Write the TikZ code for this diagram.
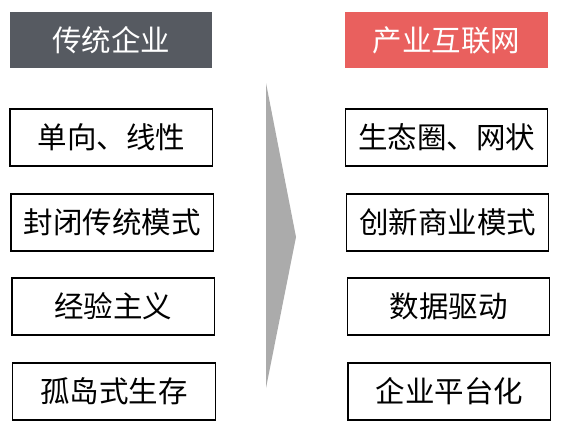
\documentclass[tikz,border=0pt]{standalone}
\usepackage{fontspec}
\newfontfamily\cjk{Noto Sans CJK SC}
\definecolor{hdrgray}{HTML}{565A61}
\definecolor{hdrred}{HTML}{E9605E}
\definecolor{arrgray}{HTML}{ABABAB}
\begin{document}
\begin{tikzpicture}[x=1pt,y=-1pt,
  hdr/.style={inner sep=0pt, text=white, minimum width=202.5pt, minimum height=56pt, font=\cjk\fontsize{29.5}{33}\selectfont},
  itembox/.style={draw=black, line width=1.1pt, inner sep=0pt, minimum width=202.5pt, minimum height=57pt, font=\cjk\fontsize{29.5}{33}\selectfont, text=black}]
\useasboundingbox (0,0) rectangle (564,436);
% headers
\node[hdr, fill=hdrgray] (lh) at (111,40) {传统企业};
\node[hdr, fill=hdrred] (rh) at (446.5,40) {产业互联网};
% left boxes
\node[itembox] (l1) at (111.25,137.5) {单向、线性};
\node[itembox] (l2) at (112.25,222.5) {封闭传统模式};
\node[itembox] (l3) at (113.25,306.5) {经验主义};
\node[itembox] (l4) at (114,391.5) {孤岛式生存};
% right boxes
\node[itembox] (r1) at (446.5,137.5) {生态圈、网状};
\node[itembox] (r2) at (447.5,222.5) {创新商业模式};
\node[itembox] (r3) at (448.5,306.5) {数据驱动};
\node[itembox] (r4) at (449.25,391.5) {企业平台化};
% arrow
\fill[arrgray] (266,83) -- (296,237) -- (266,388) -- cycle;
\end{tikzpicture}
\end{document}
